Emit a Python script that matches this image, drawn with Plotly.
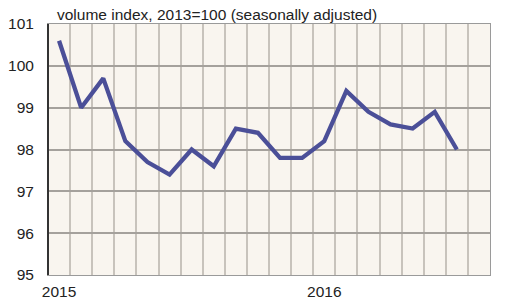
import plotly.graph_objects as go

months = list(range(19))  # Jan 2015 .. Jul 2016
values = [100.6, 99.0, 99.7, 98.2, 97.7, 97.4, 98.0, 97.6, 98.5, 98.4,
          97.8, 97.8, 98.2, 99.4, 98.9, 98.6, 98.5, 98.9, 98.0]
year_ticks = [0, 12]
year_labels = ["2015", "2016"]
title_text = "volume index, 2013=100 (seasonally adjusted)"

fig = go.Figure()
fig.add_trace(go.Scatter(x=months, y=values, mode="lines",
                         line=dict(color="#4b4f98", width=4.3), hoverinfo="skip"))

font = dict(family="Liberation Sans, Arial, sans-serif", size=15.5, color="#222222")
fig.update_layout(
    width=506, height=303,
    margin=dict(l=48, r=16, t=24, b=28, autoexpand=False),
    paper_bgcolor="white", plot_bgcolor="#f9f5ef",
    showlegend=False,
    font=font,
    title=dict(text=title_text, x=57/506, y=1-15/303, xanchor="left", yanchor="middle",
               xref="container", yref="container", font=dict(size=15.5, color="#222222")),
    xaxis=dict(range=[-0.5, 19.5], tickvals=year_ticks, ticktext=year_labels,
               showgrid=False, zeroline=False, ticks="", ticklabelstandoff=2, automargin=False,
               showline=True, linecolor="#9a9a9a", linewidth=1, mirror=True,
               minor=dict(tick0=-0.5, dtick=1, showgrid=True, gridcolor="#c8c3bc", gridwidth=2)),
    yaxis=dict(range=[95, 101], dtick=1, showgrid=True, gridcolor="#a5a19c", gridwidth=1.5,
               zeroline=False, ticks="", ticklabelstandoff=10, automargin=False,
               showline=True, linecolor="#9a9a9a", linewidth=1, mirror=True),
)
fig.add_shape(type="line", xref="paper", yref="paper", x0=0, x1=0, y0=0, y1=1,
              line=dict(color="#333333", width=2), layer="above")
fig.write_html("out.html")
